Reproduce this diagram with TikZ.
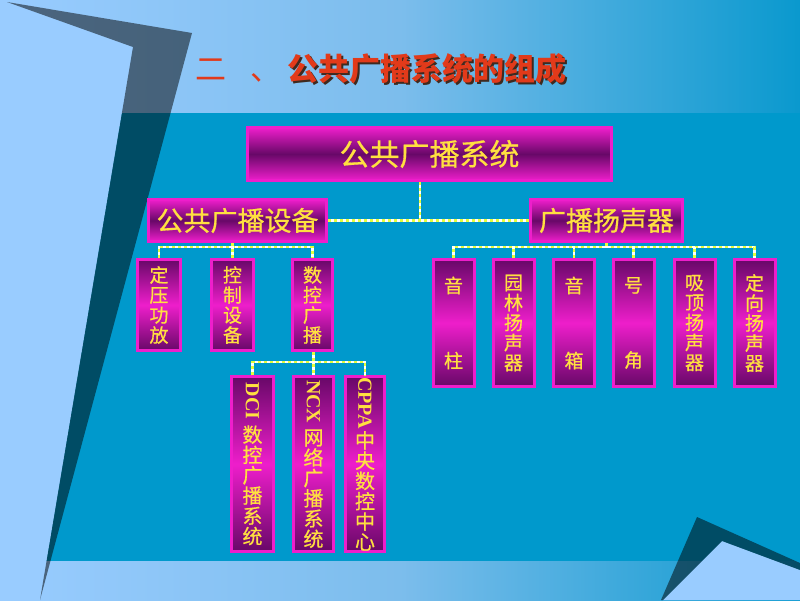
\documentclass[tikz,border=0pt]{standalone}
\usepackage{fontspec}
\usepackage{graphicx}
\newfontfamily\cjk{Noto Sans CJK SC}
\newfontfamily\cjkm[FakeBold=0.6]{Noto Sans CJK SC}
\newfontfamily\latinb{Liberation Serif}
\definecolor{lightbg}{HTML}{99CCFF}
\definecolor{midbg}{HTML}{7CBDEC}
\definecolor{rightbg}{HTML}{0A99CE}
\definecolor{teal}{HTML}{0099CC}
\definecolor{boxmag}{HTML}{EE1ECB}
\definecolor{boxdark}{HTML}{680868}
\definecolor{txtyel}{HTML}{FFE040}
\definecolor{connyel}{HTML}{E4FF3C}
\definecolor{titlered}{HTML}{E23A1A}
\definecolor{titleshadow}{HTML}{3E2A20}
\begin{document}
\begin{tikzpicture}[x=1pt,y=-1pt,
  box/.style={draw=boxmag, line width=3pt, inner sep=0pt, text=txtyel, align=center},
  vbox/.style={box, top color=boxdark, bottom color=boxdark, middle color=boxmag},
  hbox/.style={box, top color=boxmag, bottom color=boxmag, middle color=boxdark},
  smallfont/.style={font=\cjkm\fontsize{19}{20}\selectfont},
  conn/.style={draw=connyel, line width=2.6pt, dash pattern=on 3pt off 3pt,
    preaction={draw=white, solid, line width=2.6pt}},
  band/.style={left color=lightbg, right color=rightbg, middle color=midbg},
]
\useasboundingbox (0,0) rectangle (800,600);
% background
\shade[band] (0,0) rectangle (800,113);
\fill[teal] (0,113) rectangle (800,561);
\shade[band] (0,561) rectangle (800,600);
\fill[lightbg] (0,0) -- (7,2) -- (133,47) -- (40,600) -- (0,600) -- cycle;
\fill[black, opacity=0.5] (7,2) -- (192,33) -- (40,600) -- (133,47) -- cycle;
\fill[lightbg] (722,541) -- (800,570) -- (800,600) -- (663,600) -- cycle;
\fill[black, opacity=0.5] (697,517) -- (800,563) -- (800,570) -- (722,541) -- (663,600) -- (661,600) -- cycle;

% title
\node[anchor=base west, inner sep=0pt, text=titlered, font=\cjk\fontsize{31}{31}\selectfont] (t1) at (195,80)
  {二\hspace{24pt}、\hspace{6pt}{\bfseries\makebox[0pt][l]{\hspace{2.5pt}\raisebox{-2.5pt}{\color{titleshadow}公共广播系统的组成}}公共广播系统的组成}};

% top levels
\node[hbox, minimum width=364pt, minimum height=53pt, font=\cjkm\fontsize{30}{30}\selectfont] (sys) at (429.5,154) {公共广播系统};
\node[hbox, minimum width=178pt, minimum height=42pt, font=\cjkm\fontsize{27}{27}\selectfont] (equip) at (237.5,220.5) {公共广播设备};
\node[hbox, minimum width=152pt, minimum height=42pt, font=\cjkm\fontsize{27}{27}\selectfont] (spk) at (606.5,220.5) {广播扬声器};

% left group
\node[vbox, smallfont, minimum width=43pt, minimum height=91pt] (amp) at (159,305) {定\\压\\功\\放};
\node[vbox, smallfont, minimum width=42pt, minimum height=91pt] (ctrl) at (232.5,305) {控\\制\\设\\备};
\node[vbox, smallfont, minimum width=40pt, minimum height=91pt] (dig) at (312.5,305) {数\\控\\广\\播};

% bottom group
\node[vbox, font=\cjkm\fontsize{20}{20.3}\selectfont, minimum width=42pt, minimum height=175pt] (dci) at (252.5,464)
  {\rotatebox{-90}{\latinb\bfseries DCI}\\[5pt]数\\控\\广\\播\\系\\统};
\node[vbox, font=\cjkm\fontsize{20}{20.3}\selectfont, minimum width=40pt, minimum height=175pt] (ncx) at (313.5,464)
  {\rotatebox{-90}{\latinb\bfseries NCX}\\[5pt]网\\络\\广\\播\\系\\统};
\node[vbox, font=\cjkm\fontsize{20}{20.3}\selectfont, minimum width=39pt, minimum height=175pt] (cppa) at (365,464)
  {\rotatebox{-90}{\latinb\bfseries CPPA}\\[1pt]中\\央\\数\\控\\中\\心};

% right group
\node[vbox, smallfont, minimum width=41pt, minimum height=127pt] (s1) at (453.5,323) {音\\[55pt]柱};
\node[vbox, smallfont, minimum width=41pt, minimum height=127pt] (s2) at (513.5,323) {园\\林\\扬\\声\\器};
\node[vbox, smallfont, minimum width=41pt, minimum height=127pt] (s3) at (574,323) {音\\[55pt]箱};
\node[vbox, smallfont, minimum width=41pt, minimum height=127pt] (s4) at (633.5,323) {号\\[55pt]角};
\node[vbox, smallfont, minimum width=41pt, minimum height=127pt] (s5) at (694.5,323) {吸\\顶\\扬\\声\\器};
\node[vbox, smallfont, minimum width=41pt, minimum height=127pt] (s6) at (754.5,323) {定\\向\\扬\\声\\器};

% connectors
\coordinate (mj) at (420,220);
\draw[conn] (equip.east) -- (spk.west);
\draw[conn] (sys.south -| mj) -- (mj);
\draw[conn] (amp.north) -- ++(0,-11) -| (dig.north);
\draw[conn] (equip.south -| ctrl.north) -- (ctrl.north);
\draw[conn] (dci.north) -- ++(0,-13) -| (cppa.north);
\draw[conn] (dig.south -| ncx.north) -- (ncx.north);
\draw[conn] (s1.north) -- ++(0,-11) -| (s6.north);
\foreach \s in {s2,s3,s4,s5} {\draw[conn] (\s.north) -- ++(0,-11);}
\draw[conn] (spk.south) -- ++(0,4.5);
\end{tikzpicture}
\end{document}
